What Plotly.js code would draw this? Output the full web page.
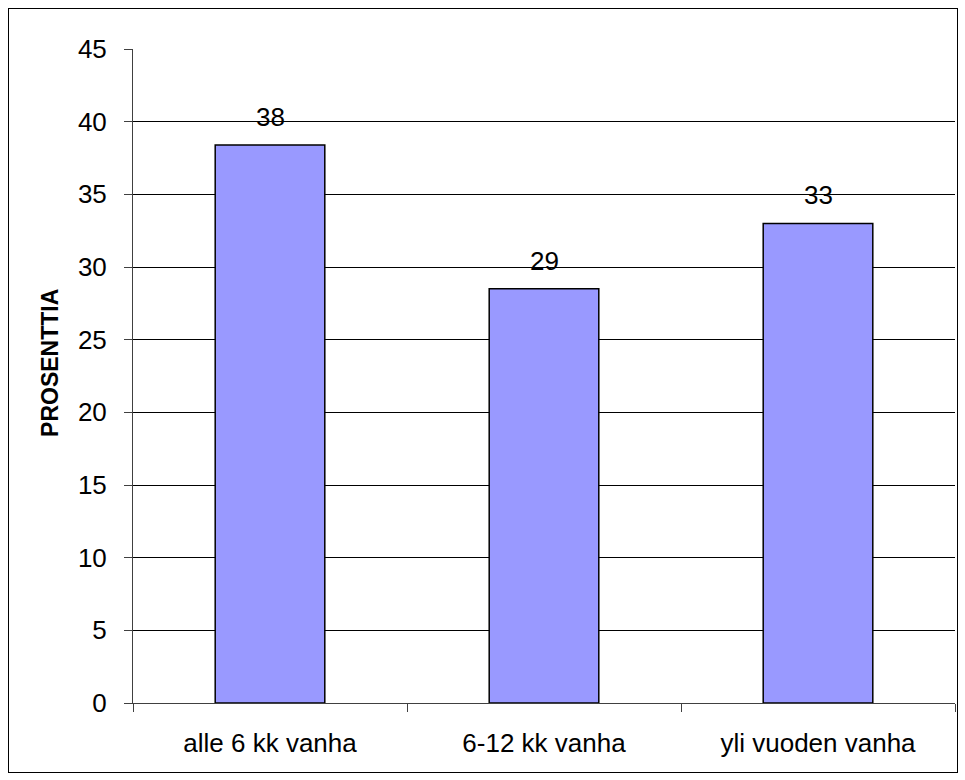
<!DOCTYPE html>
<html>
<head>
<meta charset="utf-8">
<script src="https://cdn.plot.ly/plotly-3.0.1.min.js"></script>
<style>
html,body{margin:0;padding:0;background:#fff;}
#wrap{position:relative;width:965px;height:780px;}
#chart{position:absolute;left:0;top:0;width:965px;height:780px;}
#frame{position:absolute;left:8px;top:8px;width:948px;height:763px;border:1px solid #000;pointer-events:none;}
</style>
</head>
<body>
<div id="wrap"><div id="chart"></div><div id="frame"></div></div>
<script>
const categories = ["alle 6 kk vanha", "6-12 kk vanha", "yli vuoden vanha"];
const values = [38.4, 28.5, 33.0];
const labels = ["38", "29", "33"];
const yTicks = [0, 5, 10, 15, 20, 25, 30, 35, 40, 45];
const yTitle = "PROSENTTIA";

const font = {family: "Liberation Sans, Arial, sans-serif", size: 26, color: "#000"};
const titleFont = {family: "Liberation Sans, Arial, sans-serif", size: 23, color: "#000"};

const trace = {
  type: "bar",
  x: categories,
  y: values,
  marker: {color: "#9999FF", line: {color: "#000", width: 1.5}},
  hoverinfo: "none"
};

const annotations = categories.map((c, i) => ({
  x: c, y: values[i], text: labels[i], showarrow: false,
  yanchor: "bottom", yshift: 11, font: font
}));
annotations.push({
  xref: "paper", yref: "paper", x: -0.101, y: 0.52,
  xanchor: "center", yanchor: "middle", textangle: -90,
  text: "<b>" + yTitle + "</b>", showarrow: false, font: titleFont
});

const layout = {
  width: 965, height: 780,
  margin: {l: 133, r: 10, t: 49, b: 77},
  paper_bgcolor: "#fff", plot_bgcolor: "#fff",
  showlegend: false,
  bargap: 0.6,
  font: font,
  xaxis: {
    type: "category",
    tickson: "boundaries",
    ticks: "outside", ticklen: 8, tickcolor: "#404040", tickwidth: 1,
    ticklabelstandoff: 17,
    showline: true, linecolor: "#404040", linewidth: 1,
    showgrid: false, tickfont: font
  },
  yaxis: {
    range: [0, 45],
    tickvals: yTicks,
    ticks: "outside", ticklen: 8, tickcolor: "#404040", tickwidth: 1,
    ticklabelstandoff: 12,
    showline: true, linecolor: "#404040", linewidth: 1,
    showgrid: true, gridcolor: "#000", gridwidth: 1,
    zeroline: false, tickfont: font
  },
  annotations: annotations
};

Plotly.newPlot("chart", [trace], layout, {displayModeBar: false, staticPlot: true});
</script>
</body>
</html>
